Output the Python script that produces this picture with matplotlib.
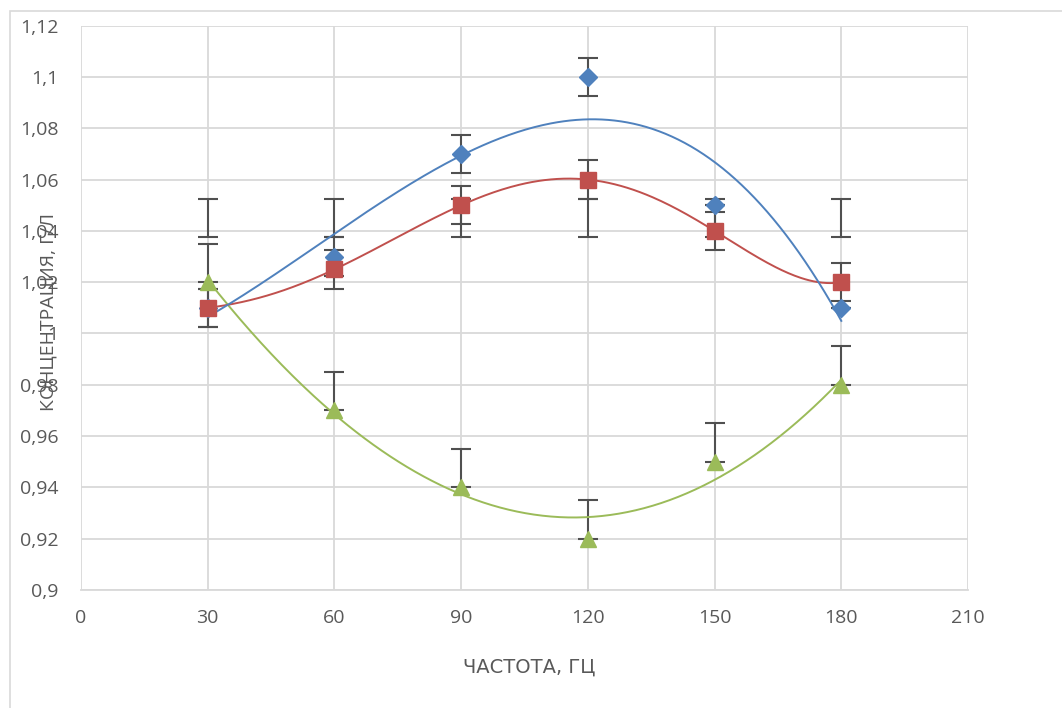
import numpy as np
import matplotlib.pyplot as plt
from matplotlib.ticker import FuncFormatter
from matplotlib.patches import Rectangle

# data
freq = [30, 60, 90, 120, 150, 180]
blue_vals = [1.01, 1.03, 1.07, 1.10, 1.05, 1.01]
red_vals = [1.01, 1.025, 1.05, 1.06, 1.04, 1.02]
green_vals = [1.02, 0.97, 0.94, 0.92, 0.95, 0.98]
blue_err = [0.0075, 0.0075, 0.0075, 0.0075, 0, 0]
red_err = [0.0075, 0.0075, 0.0075, 0.0075, 0.0075, 0.0075]
green_err_up = [0.015, 0.015, 0.015, 0.015, 0.015, 0.015]
extra_vals = [1.045, 1.045, 1.045, 1.045, 1.045, 1.045]
extra_err = [0.0075, 0.0075, 0.0075, 0.0075, 0.0075, 0.0075]
x_ticks = [0, 30, 60, 90, 120, 150, 180, 210]
y_ticks = [0.9, 0.92, 0.94, 0.96, 0.98, 1.0, 1.02, 1.04, 1.06, 1.08, 1.1, 1.12]

c_blue = '#4F81BD'
c_red = '#C0504D'
c_green = '#9BBB59'
c_err = '#505050'
c_grid = '#D9D9D9'
c_text = '#595959'

plt.rcParams['font.family'] = ['Open Sans', 'DejaVu Sans']

fig = plt.figure(figsize=(10.62, 7.08), dpi=100)
ax = fig.add_axes([0.0763, 0.1667, 0.8352, 0.797])

# chart area border
fig.patches.append(Rectangle((10 / 1062, -0.1), 1.2, 1 - 11 / 708 + 0.1,
                             transform=fig.transFigure, fill=False,
                             edgecolor=c_grid, linewidth=1.2))

ax.set_xlim(0, 210)
ax.set_ylim(0.9, 1.12)
ax.set_xticks(x_ticks)
ax.set_yticks(y_ticks)
ax.grid(True, color=c_grid, linewidth=1.3, zorder=0)
ax.set_axisbelow(True)
for s in ['top', 'right', 'left']:
    ax.spines[s].set_visible(False)
ax.spines['bottom'].set_color(c_grid)
ax.spines['bottom'].set_linewidth(1.3)
ax.tick_params(length=0, labelsize=14, colors=c_text)
ax.tick_params(axis='y', pad=16)
ax.tick_params(axis='x', pad=14)
ax.yaxis.set_major_formatter(FuncFormatter(lambda v, p: f"{round(v, 2):g}".replace('.', ',')))

# error bars
eb = dict(fmt='none', ecolor=c_err, elinewidth=1.5, capsize=7, capthick=1.5, zorder=3)
ax.errorbar(freq, extra_vals, yerr=extra_err, **eb)
ax.errorbar(freq, blue_vals, yerr=blue_err, **eb)
ax.errorbar(freq, red_vals, yerr=red_err, **eb)
ax.errorbar(freq, green_vals, yerr=[np.zeros(6), green_err_up], **eb)

# polynomial trendlines
xs = np.linspace(freq[0], freq[-1], 300)
for vals, col, deg in [(green_vals, c_green, 3), (red_vals, c_red, 5), (blue_vals, c_blue, 3)]:
    p = np.polyfit(freq, vals, deg)
    ax.plot(xs, np.polyval(p, xs), color=col, linewidth=1.4, zorder=4)

# markers
ax.plot(freq, blue_vals, 'D', color=c_blue, markersize=9, zorder=5)
ax.plot(freq, red_vals, 's', color=c_red, markersize=11, zorder=5)
ax.plot(freq, green_vals, '^', color=c_green, markersize=12, zorder=5)

ax.set_xlabel('ЧАСТОТА, ГЦ', fontsize=14, color=c_text,
              family=['Liberation Sans Narrow', 'DejaVu Sans'])
ax.xaxis.set_label_coords(0.505, -0.12)
ax.set_ylabel('КОНЦЕНТРАЦИЯ, Г/Л', fontsize=14, color=c_text)
ax.yaxis.set_label_coords(-0.027, 0.493)

fig.savefig('out.png', dpi=100)
